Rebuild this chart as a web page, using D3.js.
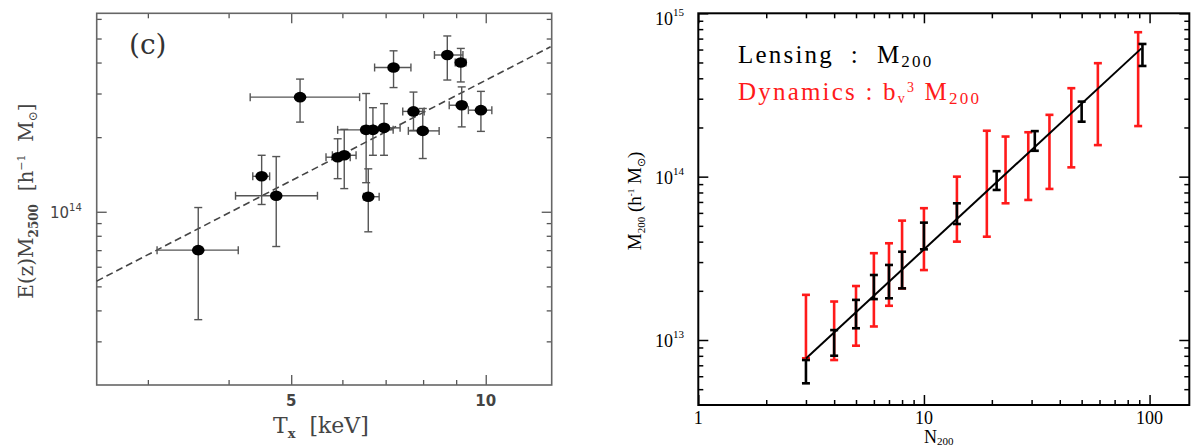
<!DOCTYPE html>
<html>
<head>
<meta charset="utf-8">
<script src="https://cdn.jsdelivr.net/npm/d3@7"></script>
<style>
  html, body { margin: 0; padding: 0; background: #fff; }
  svg { display: block; }
</style>
</head>
<body>
<div id="chart"></div>
<script>
// ── Left panel: E(z) M2500 vs Tx ──
const clusterTx   = [3.59, 4.50, 4.74, 5.16, 5.90, 6.04, 6.53, 6.69, 6.96, 6.58, 7.20, 7.73, 7.99, 8.72, 9.15, 9.18, 9.83];
const clusterTxLo = [3.10, 4.36, 4.10, 4.32, 5.66, 5.79, 5.90, 6.44, 6.70, 6.47, 6.73, 7.44, 7.59, 8.33, 8.97, 8.78, 9.40];
const clusterTxHi = [4.14, 4.63, 5.49, 6.38, 6.17, 6.30, 7.19, 6.96, 7.37, 6.84, 7.66, 8.03, 8.47, 9.22, 9.32, 9.30, 10.22];
const clusterM    = [7.0e13, 1.39e14, 1.16e14, 2.90e14, 1.66e14, 1.69e14, 2.14e14, 2.14e14, 2.18e14, 1.15e14, 3.82e14, 2.54e14, 2.12e14, 4.29e14, 4.00e14, 2.69e14, 2.57e14];
const clusterMLo  = [3.67e13, 1.07e14, 7.24e13, 2.30e14, 1.36e14, 1.24e14, 1.31e14, 1.69e14, 1.69e14, 8.30e13, 3.17e14, 2.13e14, 1.64e14, 3.40e14, 3.34e14, 2.20e14, 2.11e14];
const clusterMHi  = [1.04e14, 1.69e14, 1.67e14, 3.43e14, 1.97e14, 2.15e14, 3.00e14, 2.63e14, 2.73e14, 1.49e14, 4.46e14, 3.04e14, 2.61e14, 5.12e14, 4.56e14, 3.19e14, 3.06e14];
const fitTx = [2.5, 12.6];
const fitM  = [5.25e13, 4.63e14];
const leftXMinor = [3, 4, 6, 7, 8, 9];
const leftXMajor = [5, 10];
const leftYMinor = [3e13, 4e13, 5e13, 6e13, 7e13, 8e13, 9e13, 2e14, 3e14, 4e14, 5e14, 6e14];
const leftYMajor = [1e14];

// ── Right panel: M200 vs N200 ──
const lensN  = [3, 4, 5, 6, 7, 8, 10, 14, 21, 31, 50, 93];
const lensLo = [5.43e12, 8.01e12, 1.18e13, 1.78e13, 1.80e13, 2.07e13, 3.59e13, 5.13e13, 8.29e13, 1.44e14, 2.17e14, 4.76e14];
const lensHi = [7.54e12, 1.15e13, 1.76e13, 2.50e13, 2.88e13, 3.47e13, 5.23e13, 6.87e13, 1.08e14, 1.90e14, 2.88e14, 6.49e14];
const dynN   = [3, 4, 5, 6, 7, 8, 10, 14, 19, 23, 29, 36, 45, 59, 89];
const dynLo  = [7.73e12, 7.54e12, 9.23e12, 1.21e13, 1.62e13, 2.07e13, 2.68e13, 4.0e13, 4.29e13, 6.87e13, 7.20e13, 8.41e13, 1.14e14, 1.56e14, 2.04e14];
const dynHi  = [1.89e13, 1.72e13, 2.14e13, 3.40e13, 3.91e13, 5.38e13, 6.41e13, 1.0e14, 1.91e14, 1.76e14, 1.87e14, 2.39e14, 3.48e14, 4.95e14, 7.66e14];
const fitN    = [3, 92];
const fitM200 = [7.7e12, 6.1e14];
const rightXMajor = [1, 10, 100];
const rightXMinor = [2, 3, 4, 5, 6, 7, 8, 9, 20, 30, 40, 50, 60, 70, 80, 90];
const rightYMajor = [1e13, 1e14, 1e15];
const rightYMinor = [5e12, 6e12, 7e12, 8e12, 9e12, 2e13, 3e13, 4e13, 5e13, 6e13, 7e13, 8e13, 9e13,
                     2e14, 3e14, 4e14, 5e14, 6e14, 7e14, 8e14, 9e14];

const W = 1196, H = 448;
const svg = d3.select('#chart').append('svg').attr('width', W).attr('height', H);

// inside ticks on all four sides, drawn with d3 axes (no domain path)
function ticks(g, x, y, xv, yv, len, color, width) {
  const [x0, x1] = x.range(), [y0, y1] = y.range();
  const axes = [
    [d3.axisBottom(x).tickValues(xv).tickSize(-len), `translate(0,${y0})`],
    [d3.axisTop(x).tickValues(xv).tickSize(-len), `translate(0,${y1})`],
    [d3.axisLeft(y).tickValues(yv).tickSize(-len), `translate(${x0},0)`],
    [d3.axisRight(y).tickValues(yv).tickSize(-len), `translate(${x1},0)`],
  ];
  axes.forEach(([ax, tr]) => {
    const a = g.append('g').attr('transform', tr).call(ax.tickFormat(''));
    a.select('.domain').remove();
    a.selectAll('.tick line').attr('stroke', color).attr('stroke-width', width);
  });
}

// ============ LEFT PANEL ============
(function () {
  const x = d3.scaleLog().domain([2.5, 12.65]).range([96.7, 551.7]);
  const y = d3.scaleLog().domain([2e13, 6.32e14]).range([385, 13.3]);
  const ink = '#555';
  const font = "'DejaVu Serif', serif";
  const g = svg.append('g');

  ticks(g, x, y, leftXMinor, leftYMinor, 5, ink, 1.3);
  ticks(g, x, y, leftXMajor, leftYMajor, 10, ink, 1.3);

  g.append('rect')
    .attr('x', 96.7).attr('y', 13.3)
    .attr('width', 551.7 - 96.7).attr('height', 385 - 13.3)
    .attr('fill', 'none').attr('stroke', '#666').attr('stroke-width', 1.6);

  // fit line
  g.append('line')
    .attr('x1', x(fitTx[0])).attr('y1', y(fitM[0]))
    .attr('x2', x(fitTx[1])).attr('y2', y(fitM[1]))
    .attr('stroke', '#444').attr('stroke-width', 1.6).attr('stroke-dasharray', '7,4');

  const idx = d3.range(clusterTx.length);
  const cap = 4;
  const eb = g.append('g').attr('stroke', ink).attr('stroke-width', 1.4);
  idx.forEach(i => {
    const cx = x(clusterTx[i]), cy = y(clusterM[i]);
    const xl = x(clusterTxLo[i]), xh = x(clusterTxHi[i]);
    const yl = y(clusterMLo[i]), yh = y(clusterMHi[i]);
    eb.append('line').attr('x1', xl).attr('x2', xh).attr('y1', cy).attr('y2', cy);
    eb.append('line').attr('x1', xl).attr('x2', xl).attr('y1', cy - cap).attr('y2', cy + cap);
    eb.append('line').attr('x1', xh).attr('x2', xh).attr('y1', cy - cap).attr('y2', cy + cap);
    eb.append('line').attr('x1', cx).attr('x2', cx).attr('y1', yl).attr('y2', yh);
    eb.append('line').attr('x1', cx - cap).attr('x2', cx + cap).attr('y1', yl).attr('y2', yl);
    eb.append('line').attr('x1', cx - cap).attr('x2', cx + cap).attr('y1', yh).attr('y2', yh);
  });
  g.selectAll('.pt').data(idx).enter().append('ellipse')
    .attr('cx', i => x(clusterTx[i])).attr('cy', i => y(clusterM[i]))
    .attr('rx', 6.3).attr('ry', 5.3).attr('fill', '#000');

  // tick labels
  leftXMajor.forEach(v => {
    g.append('text').attr('x', x(v)).attr('y', 406).attr('text-anchor', 'middle')
      .attr('font-family', "'DejaVu Sans', sans-serif").attr('font-size', 15).attr('font-weight', 'bold')
      .attr('fill', '#444').text(v);
  });
  leftYMajor.forEach(v => {
    const t = g.append('text').attr('x', 50).attr('y', y(v) + 6)
      .attr('font-family', "'DejaVu Sans', sans-serif").attr('font-size', 15).attr('fill', '#444');
    t.append('tspan').text('10');
    t.append('tspan').attr('font-size', 10).attr('dy', -7).text(Math.round(Math.log10(v)));
  });

  // axis titles
  const xt = g.append('text').attr('x', 273).attr('y', 433)
    .attr('font-family', font).attr('font-size', 22).attr('fill', '#444');
  xt.append('tspan').text('T');
  xt.append('tspan').attr('font-size', 13).attr('dy', 5).attr('font-weight', 'bold').text('x');
  xt.append('tspan').attr('dy', -5).text('\u00a0\u00a0[keV]');

  const yt = g.append('text').attr('transform', 'translate(33,201) rotate(-90)')
    .attr('text-anchor', 'middle')
    .attr('font-family', font).attr('font-size', 20).attr('fill', '#444');
  yt.append('tspan').text('E(z)M');
  yt.append('tspan').attr('font-size', 12).attr('dy', 5).attr('font-weight', 'bold').text('2500');
  yt.append('tspan').attr('dy', -5).text('\u00a0\u00a0[h');
  yt.append('tspan').attr('font-size', 11).attr('dy', -8).text('−1');
  yt.append('tspan').attr('dy', 8).text('\u00a0\u00a0M');
  yt.append('tspan').attr('font-size', 12).attr('dy', 4).text('⊙');
  yt.append('tspan').attr('dy', -4).text(']');

  g.append('text').attr('x', 129).attr('y', 54)
    .attr('font-family', font).attr('font-size', 28).attr('fill', '#333').text('(c)');
})();

// ============ RIGHT PANEL ============
(function () {
  const x = d3.scaleLog().domain([1, 150]).range([698.3, 1189.3]);
  const y = d3.scaleLog().domain([4e12, 1e15]).range([405, 13.3]);
  const font = "'Liberation Serif', 'Times New Roman', serif";
  const red = '#ff1a1a';
  const g = svg.append('g');

  ticks(g, x, y, rightXMinor, rightYMinor, 5, '#000', 1.5);
  ticks(g, x, y, rightXMajor, rightYMajor, 10, '#000', 1.5);

  g.append('rect')
    .attr('x', 698.3).attr('y', 13.3)
    .attr('width', 1189.3 - 698.3).attr('height', 405 - 13.3)
    .attr('fill', 'none').attr('stroke', '#000').attr('stroke-width', 2);

  function bars(ns, lo, hi, color, cap) {
    const b = g.append('g').attr('stroke', color).attr('stroke-width', 2.6);
    ns.forEach((n, i) => {
      const cx = x(n), y0 = y(lo[i]), y1 = y(hi[i]);
      b.append('line').attr('x1', cx).attr('x2', cx).attr('y1', y0).attr('y2', y1);
      b.append('line').attr('x1', cx - cap).attr('x2', cx + cap).attr('y1', y0).attr('y2', y0);
      b.append('line').attr('x1', cx - cap).attr('x2', cx + cap).attr('y1', y1).attr('y2', y1);
    });
  }
  bars(dynN, dynLo, dynHi, red, 4);
  bars(lensN, lensLo, lensHi, '#000', 4);

  g.append('line')
    .attr('x1', x(fitN[0])).attr('y1', y(fitM200[0]))
    .attr('x2', x(fitN[1])).attr('y2', y(fitM200[1]))
    .attr('stroke', '#000').attr('stroke-width', 2);

  // tick labels
  rightXMajor.forEach(v => {
    g.append('text').attr('x', x(v)).attr('y', 424).attr('text-anchor', 'middle')
      .attr('font-family', font).attr('font-size', 18).attr('fill', '#000').text(v);
  });
  rightYMajor.forEach(v => {
    const t = g.append('text').attr('x', 655).attr('y', Math.max(y(v) + 7, 25))
      .attr('font-family', font).attr('font-size', 18).attr('fill', '#000');
    t.append('tspan').text('10');
    t.append('tspan').attr('font-size', 11).attr('dy', -9).text(Math.round(Math.log10(v)));
  });

  // axis titles
  const xt = g.append('text').attr('x', 924).attr('y', 443)
    .attr('font-family', font).attr('font-size', 18).attr('fill', '#000');
  xt.append('tspan').text('N');
  xt.append('tspan').attr('font-size', 11).attr('dy', 2).text('200');

  const yt = g.append('text').attr('transform', 'translate(641,201) rotate(-90)')
    .attr('text-anchor', 'middle')
    .attr('font-family', font).attr('font-size', 19).attr('fill', '#000');
  yt.append('tspan').text('M');
  yt.append('tspan').attr('font-size', 11).attr('dy', 4).text('200');
  yt.append('tspan').attr('dy', -4).text('\u00a0(h');
  yt.append('tspan').attr('font-size', 9).attr('dy', -7).text('-1');
  yt.append('tspan').attr('dy', 7).text('\u00a0M');
  yt.append('tspan').attr('font-size', 11).attr('dy', 4).text('⊙');
  yt.append('tspan').attr('dy', -4).text(')');

  // legend
  const l1 = g.append('text').attr('x', 738).attr('y', 63)
    .attr('font-family', font).attr('font-size', 25).attr('letter-spacing', 2.2).attr('fill', '#000');
  l1.append('tspan').text('Lensing\u00a0\u00a0:\u00a0\u00a0M');
  l1.append('tspan').attr('font-size', 17).attr('dy', 4).text('200');

  const l2 = g.append('text').attr('x', 738).attr('y', 100)
    .attr('font-family', font).attr('font-size', 25).attr('letter-spacing', 2.2).attr('fill', red);
  l2.append('tspan').text('Dynamics : b');
  l2.append('tspan').attr('font-size', 14).attr('dy', 3).text('v');
  l2.append('tspan').attr('font-size', 14).attr('dy', -11).text('3');
  l2.append('tspan').attr('dy', 8).text('\u00a0M');
  l2.append('tspan').attr('font-size', 17).attr('dy', 4).text('200');
})();
</script>
</body>
</html>
